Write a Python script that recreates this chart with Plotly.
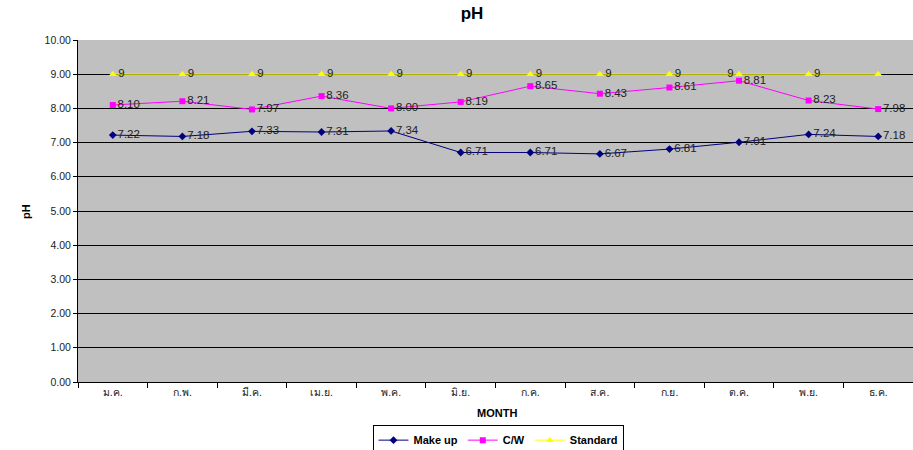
import plotly.graph_objects as go

months = ["ม.ค.", "ก.พ.", "มี.ค.", "เม.ย.", "พ.ค.", "มิ.ย.", "ก.ค.", "ส.ค.", "ก.ย.", "ต.ค.", "พ.ย.", "ธ.ค."]
make_up = [7.22, 7.18, 7.33, 7.31, 7.34, 6.71, 6.71, 6.67, 6.81, 7.01, 7.24, 7.18]
cw = [8.10, 8.21, 7.97, 8.36, 8.00, 8.19, 8.65, 8.43, 8.61, 8.81, 8.23, 7.98]
standard = [9, 9, 9, 9, 9, 9, 9, 9, 9, 9, 9, 9]
standard_labels = ["9", "9", "9", "9", "9", "9", "9", "9", "9", "9", "9", ""]

font = "Liberation Sans, Arial, sans-serif"
lab = dict(size=11.5, color="#222222", family=font)

fig = go.Figure()
fig.add_trace(go.Scatter(
    x=months, y=make_up, name="<b>Make up</b>", mode="lines+markers+text",
    line=dict(color="#000080", width=1), marker=dict(symbol="diamond", size=6, color="#000080"),
    text=[f"{v:.2f}" for v in make_up], textposition="middle right",
    textfont=lab, cliponaxis=False))
fig.add_trace(go.Scatter(
    x=months, y=cw, name="<b>C/W</b>", mode="lines+markers+text",
    line=dict(color="#FF00FF", width=1), marker=dict(symbol="square", size=6, color="#FF00FF"),
    text=[f"{v:.2f}" for v in cw], textposition="middle right",
    textfont=lab, cliponaxis=False))
fig.add_trace(go.Scatter(
    x=months, y=standard, name="<b>Standard</b>", mode="lines+markers+text",
    line=dict(color="#FFFF00", width=1), marker=dict(symbol="triangle-up", size=7, color="#FFFF00"),
    text=standard_labels,
    textposition=["middle right"] * 9 + ["middle left", "middle right", "middle right"],
    textfont=lab, cliponaxis=False))

fig.update_layout(
    width=913, height=450,
    margin=dict(l=78, r=0, t=40, b=68, autoexpand=False),
    paper_bgcolor="white", plot_bgcolor="#C0C0C0",
    font=dict(family=font, size=10, color="black"),
    title=dict(text="<b>pH</b>", x=0.517, xanchor="center", y=0.972, yanchor="middle",
               font=dict(size=17, family=font)),
    showlegend=True,
    legend=dict(orientation="h", x=0.503, xanchor="center", y=-0.17, yanchor="middle",
                bordercolor="black", borderwidth=1, bgcolor="white",
                font=dict(size=11, family=font), itemwidth=30, tracegroupgap=0),
    xaxis=dict(type="category", showgrid=False, showline=True, linecolor="black", linewidth=1,
               ticks="outside", tickson="boundaries", ticklen=5, tickcolor="black",
               tickfont=dict(size=10.5, family=font, color="#222222"), range=[-0.5, 11.5], mirror=False),
    yaxis=dict(range=[0, 10], dtick=1, tickformat=".2f", showgrid=True, gridcolor="black",
               gridwidth=1, showline=True, linecolor="black", linewidth=1, ticks="outside",
               ticklen=4, tickcolor="black", tickfont=dict(size=10.5, family=font, color="#222222"),
               zeroline=False),
    annotations=[
        dict(text="<b>MONTH</b>", xref="paper", yref="paper", x=0.502, y=-0.09, yanchor="middle",
             showarrow=False, font=dict(size=11, family=font)),
        dict(text="<b>pH</b>", xref="paper", yref="paper", x=-0.072, y=0.5, textangle=-90,
             showarrow=False, font=dict(size=11, family=font)),
    ],
)

fig.write_html("out.html", config={"displayModeBar": False},
               post_script="document.body.style.margin='0';document.body.style.overflow='hidden';")
